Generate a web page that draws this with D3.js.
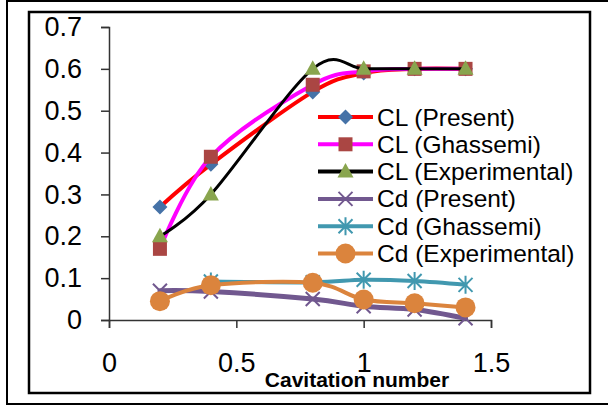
<!doctype html>
<html>
<head>
<meta charset="UTF-8" />
<script src="https://d3js.org/d3.v7.min.js"></script>
<style>
  body { margin: 0; background: #fff; }
  text { font-family: "Liberation Sans", Arial, sans-serif; }
</style>
</head>
<body>
<svg id="chart" width="608" height="407"></svg>
<script>
(function(){
  "use strict";

  // data
  const cavitation = [0.2, 0.4, 0.8, 1.0, 1.2, 1.4];
  const clPresent = [0.27, 0.372, 0.545, 0.59, 0.6, 0.6];
  const clGhassemi = [0.17, 0.39, 0.562, 0.594, 0.6, 0.6];
  const clExperimental = [0.2, 0.3, 0.6, 0.6, 0.6, 0.6];
  const cdPresent = [0.07, 0.068, 0.05, 0.033, 0.025, 0.004];
  const cdGhassemi = [null, 0.092, 0.09, 0.096, 0.093, 0.084];
  const cdExperimental = [0.045, 0.083, 0.089, 0.049, 0.04, 0.03];
  const seriesNames = ["CL (Present)", "CL (Ghassemi)", "CL (Experimental)",
                       "Cd (Present)", "Cd (Ghassemi)", "Cd (Experimental)"];
  const xTicks = [0, 0.5, 1, 1.5];
  const yTicks = [0, 0.1, 0.2, 0.3, 0.4, 0.5, 0.6, 0.7];

  const series = [
    { name: seriesNames[0], values: clPresent, line: "#ff0000", lw: 4, marker: "diamond", mc: "#4572a7" },
    { name: seriesNames[1], values: clGhassemi, line: "#ff00ff", lw: 4, marker: "square", mc: "#aa4643" },
    { name: seriesNames[2], values: clExperimental, line: "#000000", lw: 3, marker: "triangle", mc: "#89a54e" },
    { name: seriesNames[3], values: cdPresent, line: "#71588f", lw: 5, marker: "x", mc: "#71588f" },
    { name: seriesNames[4], values: cdGhassemi, line: "#4198af", lw: 4, marker: "star", mc: "#4198af" },
    { name: seriesNames[5], values: cdExperimental, line: "#db843d", lw: 4, marker: "circle", mc: "#db843d" }
  ];

  const svg = d3.select("#chart");

  // frames
  svg.append("rect").attr("x", 7).attr("y", 1).attr("width", 620).attr("height", 403)
     .attr("fill", "none").attr("stroke", "#000").attr("stroke-width", 2);
  svg.append("rect").attr("x", 29).attr("y", 12).attr("width", 561).attr("height", 381)
     .attr("fill", "none").attr("stroke", "#000").attr("stroke-width", 2.5);

  const x = d3.scaleLinear().domain([0, 1.5]).range([109, 491]);
  const y = d3.scaleLinear().domain([0, 0.7]).range([320, 27]);

  // axes
  const yAxis = svg.append("g").attr("transform", "translate(109,0)")
      .call(d3.axisLeft(y).tickValues(yTicks).tickSize(8).tickPadding(19)
        .tickFormat(d => d === 0 ? "0" : d3.format(".1f")(d)));
  const xAxis = svg.append("g").attr("transform", "translate(0,320)")
      .call(d3.axisBottom(x).tickValues(xTicks).tickSize(8).tickPadding(25)
        .tickFormat(d => String(d)));
  [yAxis, xAxis].forEach(function(g){
    g.select(".domain").attr("stroke", "#333").attr("stroke-width", 1.5);
    g.selectAll(".tick line").attr("stroke", "#333").attr("stroke-width", 1.5);
    g.selectAll(".tick text").attr("fill", "#000").style("font-size", "27px")
      .style("font-family", "'Liberation Sans', Arial, sans-serif");
  });

  svg.append("text").attr("x", 357).attr("y", 387).attr("text-anchor", "middle")
     .style("font-size", "21px").style("font-weight", "bold").text("Cavitation number");

  const line = d3.line()
      .defined(d => d[1] !== null)
      .x(d => x(d[0])).y(d => y(d[1]))
      .curve(d3.curveCatmullRom.alpha(0));

  function markerPath(type){
    switch(type){
      case "diamond": return "M0,-7.5L7.5,0L0,7.5L-7.5,0Z";
      case "square": return "M-7,-7H7V7H-7Z";
      case "triangle": return "M0,-8.5L8,6L-8,6Z";
      case "x": return "M-7,-7L7,7M-7,7L7,-7";
      case "star": return "M-7,-7L7,7M-7,7L7,-7M0,-9V9";
      default: return null;
    }
  }

  function drawMarker(g, type, color, cx, cy){
    if(type === "circle"){
      g.append("circle").attr("cx", cx).attr("cy", cy).attr("r", 10).attr("fill", color);
    } else if(type === "x" || type === "star"){
      g.append("path").attr("d", markerPath(type)).attr("transform", "translate(" + cx + "," + cy + ")")
        .attr("fill", "none").attr("stroke", color).attr("stroke-width", 2);
    } else {
      g.append("path").attr("d", markerPath(type)).attr("transform", "translate(" + cx + "," + cy + ")")
        .attr("fill", color);
    }
  }

  // plotting: each series line then its markers
  series.forEach(function(s){
    const pts = cavitation.map((c, i) => [c, s.values[i]]);
    const g = svg.append("g");
    g.append("path").datum(pts).attr("d", line)
      .attr("fill", "none").attr("stroke", s.line).attr("stroke-width", s.lw)
      .attr("stroke-linejoin", "round").attr("stroke-linecap", "round");
    pts.filter(p => p[1] !== null).forEach(function(p){
      drawMarker(g, s.marker, s.mc, x(p[0]), y(p[1]));
    });
  });

  // legend
  const legend = svg.append("g");
  series.forEach(function(s, i){
    const ly = 117 + i * 27.3;
    const g = legend.append("g");
    g.append("line").attr("x1", 318).attr("x2", 373).attr("y1", ly).attr("y2", ly)
      .attr("stroke", s.line).attr("stroke-width", 4);
    drawMarker(g, s.marker, s.mc, 345.5, ly);
    g.append("text").attr("x", 377).attr("y", ly + 8.5)
      .style("font-size", "24.5px").text(s.name);
  });
})();
</script>
</body>
</html>
